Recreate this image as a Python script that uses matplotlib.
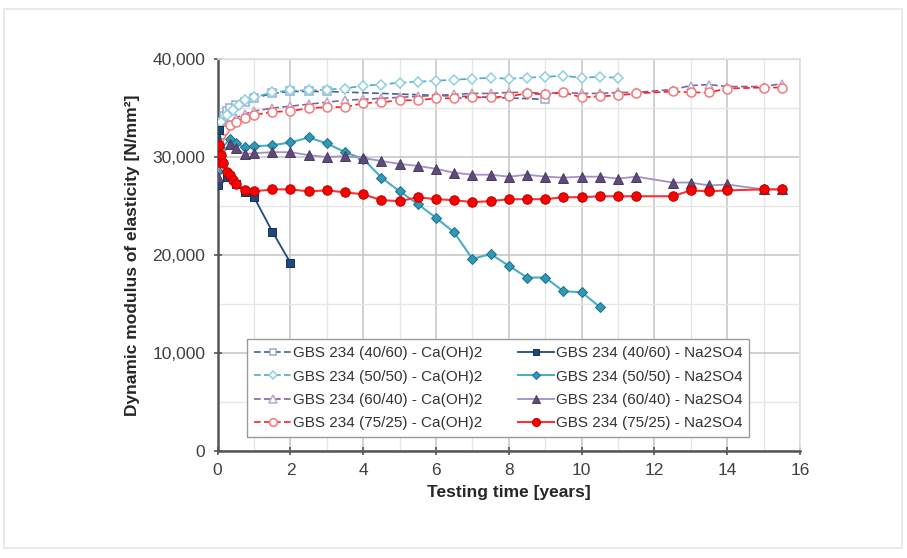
import numpy as np
import matplotlib
matplotlib.use("Agg")
from matplotlib import pyplot as plt
from matplotlib.ticker import FuncFormatter, MultipleLocator
from matplotlib.patches import Rectangle

plt.rcParams['font.family'] = ['Liberation Sans', 'DejaVu Sans']

# --- data (time in years, modulus in N/mm2) ---
t_ca_4060 = [0, 0.08, 0.17, 0.25, 0.33, 0.5, 0.75, 1, 1.5, 2, 2.5, 3, 9]
e_ca_4060 = [32800, 33600, 34200, 34700, 35000, 35300, 35600, 36000, 36500, 36700, 36700, 36700, 35900]

t_ca_5050 = [0, 0.08, 0.25, 0.42, 0.58, 0.75, 1, 1.5, 2, 2.5, 3, 3.5, 4, 4.5, 5, 5.5, 6,
             6.5, 7, 7.5, 8, 8.5, 9, 9.5, 10, 10.5, 11]
e_ca_5050 = [32500, 33600, 34300, 34800, 35300, 35800, 36100, 36600, 36800, 36800, 36900, 37000,
             37300, 37400, 37600, 37700, 37800, 37900, 38000, 38100, 38000, 38100, 38200, 38300,
             38100, 38200, 38100]

t_ca_6040 = [0, 0.08, 0.25, 0.5, 0.75, 1, 1.5, 2, 2.5, 3, 3.5, 4, 4.5, 5, 5.5, 6, 6.5, 7, 7.5,
             8, 8.5, 9, 9.5, 10, 10.5, 11, 11.5, 12.5, 13, 13.5, 14, 15, 15.5]
e_ca_6040 = [31500, 32600, 33400, 34000, 34400, 34700, 35000, 35200, 35400, 35600, 35800, 35900,
             36000, 36100, 36200, 36300, 36400, 36500, 36500, 36600, 36600, 36500, 36600, 36500,
             36500, 36600, 36600, 36900, 37300, 37400, 37200, 37200, 37500]

t_ca_7525 = [0, 0.04, 0.08, 0.17, 0.33, 0.5, 0.75, 1, 1.5, 2, 2.5, 3, 3.5, 4, 4.5, 5, 5.5, 6,
             6.5, 7, 7.5, 8, 8.5, 9, 9.5, 10, 10.5, 11, 11.5, 12.5, 13, 13.5, 14, 15, 15.5]
e_ca_7525 = [30500, 31900, 32400, 32800, 33300, 33600, 34000, 34300, 34600, 34700, 35000, 35100,
             35100, 35500, 35600, 35800, 35800, 36000, 36000, 36100, 36100, 36200, 36500, 36400,
             36600, 36100, 36200, 36300, 36500, 36700, 36600, 36600, 37000, 37100, 37100]

t_na_4060 = [0, 0.04, 0.25, 0.5, 0.75, 1, 1.5, 2]
e_na_4060 = [27100, 32800, 28000, 27300, 26400, 25900, 22400, 19200]

t_na_5050 = [0, 0.08, 0.33, 0.5, 0.75, 1, 1.5, 2, 2.5, 3, 3.5, 4, 4.5, 5, 5.5, 6, 6.5, 7,
             7.5, 8, 8.5, 9, 9.5, 10, 10.5]
e_na_5050 = [28600, 30800, 31800, 31400, 31000, 31100, 31200, 31500, 32000, 31400, 30500, 29800,
             27900, 26500, 25200, 23800, 22300, 19600, 20100, 18900, 17700, 17700, 16300, 16200,
             14700]

t_na_6040 = [0, 0.08, 0.33, 0.5, 0.75, 1, 1.5, 2, 2.5, 3, 3.5, 4, 4.5, 5, 5.5, 6, 6.5, 7, 7.5,
             8, 8.5, 9, 9.5, 10, 10.5, 11, 11.5, 12.5, 13, 13.5, 14, 15, 15.5]
e_na_6040 = [28000, 30200, 31300, 30900, 30300, 30400, 30500, 30500, 30200, 30000, 30100, 29900,
             29600, 29300, 29100, 28800, 28400, 28200, 28200, 28000, 28200, 28000, 27900, 28000,
             28000, 27800, 28000, 27400, 27400, 27100, 27200, 26700, 26700]

t_na_7525 = [0, 0.03, 0.08, 0.14, 0.25, 0.33, 0.42, 0.5, 0.75, 1, 1.5, 2, 2.5, 3, 3.5, 4, 4.5,
             5, 5.5, 6, 6.5, 7, 7.5, 8, 8.5, 9, 9.5, 10, 10.5, 11, 11.5, 12.5, 13, 13.5, 14, 15, 15.5]
e_na_7525 = [29500, 31200, 30200, 29400, 28500, 28200, 27700, 27300, 26600, 26500, 26700, 26700,
             26500, 26600, 26400, 26200, 25600, 25500, 25900, 25700, 25600, 25400, 25500, 25700,
             25700, 25700, 25900, 25900, 26000, 26000, 26000, 26000, 26600, 26500, 26600, 26700,
             26700]

labels_ca = ['GBS 234 (40/60) - Ca(OH)2', 'GBS 234 (50/50) - Ca(OH)2',
             'GBS 234 (60/40) - Ca(OH)2', 'GBS 234 (75/25) - Ca(OH)2']
labels_na = ['GBS 234 (40/60) - Na2SO4', 'GBS 234 (50/50) - Na2SO4',
             'GBS 234 (60/40) - Na2SO4', 'GBS 234 (75/25) - Na2SO4']

fig = plt.figure(figsize=(9.07, 5.58), dpi=100)
fig.patches.append(Rectangle((0.004, 0.018), 0.99, 0.965, transform=fig.transFigure,
                             fill=False, edgecolor='#e6e6e6', linewidth=1.2))
ax = fig.add_axes([0.240, 0.192, 0.642, 0.702])

# Ca(OH)2: open markers, dashed lines
ax.plot(t_ca_4060, e_ca_4060, ls=(0, (4, 2)), color='#3E64A0', lw=1.2, marker='s', ms=5.5,
        mfc='white', mec='#95AFD6', mew=1.1, label=labels_ca[0], zorder=3)
ax.plot(t_ca_5050, e_ca_5050, ls=(0, (4, 2)), color='#4BACC6', lw=1.2, marker='D', ms=4.8,
        mfc='white', mec='#8FD0E0', mew=1.1, label=labels_ca[1], zorder=3)
ax.plot(t_ca_6040, e_ca_6040, ls=(0, (4, 2)), color='#8064A2', lw=1.2, marker='^', ms=6,
        mfc='white', mec='#B9A8D0', mew=1.1, label=labels_ca[2], zorder=3)
ax.plot(t_ca_7525, e_ca_7525, ls=(0, (4, 2)), color='#FF2020', lw=1.2, marker='o', ms=6.5,
        mfc='white', mec='#F47A7A', mew=1.1, label=labels_ca[3], zorder=3)

# Na2SO4: filled markers, solid lines
ax.plot(t_na_4060, e_na_4060, ls='-', color='#1F497D', lw=1.3, marker='s', ms=5.5,
        mfc='#1F497D', mec='#14304F', mew=0.7, label=labels_na[0], zorder=4)
ax.plot(t_na_5050, e_na_5050, ls='-', color='#4BACC6', lw=1.5, marker='D', ms=5,
        mfc='#2E9AB8', mec='#1E6E84', mew=0.7, label=labels_na[1], zorder=4)
ax.plot(t_na_6040, e_na_6040, ls='-', color='#A390C4', lw=1.3, marker='^', ms=6.5,
        mfc='#604A7B', mec='#4A3A60', mew=0.7, label=labels_na[2], zorder=4)
ax.plot(t_na_7525, e_na_7525, ls='-', color='#FF3030', lw=1.5, marker='o', ms=6.8,
        mfc='#FF0000', mec='#B00000', mew=0.7, label=labels_na[3], zorder=5)

ax.set_xlim(0, 16)
ax.set_ylim(0, 40000)
ax.xaxis.set_major_locator(MultipleLocator(2))
ax.xaxis.set_minor_locator(MultipleLocator(1))
ax.yaxis.set_major_locator(MultipleLocator(10000))
ax.yaxis.set_minor_locator(MultipleLocator(5000))
ax.yaxis.set_major_formatter(FuncFormatter(lambda v, p: f'{int(v):,}'))

ax.grid(which='major', color='#c8c8c8', lw=1.2)
ax.grid(which='minor', color='#e6e6e6', lw=1.0)
ax.set_axisbelow(True)

for s in ['top', 'right']:
    ax.spines[s].set_color('#e0e0e0')
    ax.spines[s].set_linewidth(1.2)
for s in ['left', 'bottom']:
    ax.spines[s].set_color('#555555')
    ax.spines[s].set_linewidth(1.8)

ax.tick_params(which='major', direction='inout', length=6, width=1.2, color='#555555',
               labelsize=12.5, labelcolor='#404040', pad=6)
ax.tick_params(which='minor', length=0)

ax.set_xlabel('Testing time [years]', fontsize=12.5, fontweight='bold', color='#262626', labelpad=5)
ax.set_ylabel('Dynamic modulus of elasticity [N/mm²]', fontsize=12.5, fontweight='bold',
              color='#262626', labelpad=9)

leg = ax.legend(ncol=2, loc='lower left', bbox_to_anchor=(0.038, 0.015, 0.888, 0.261),
                mode='expand', fontsize=11, frameon=True, fancybox=False,
                edgecolor='#9a9a9a', framealpha=1, handlelength=2.4, columnspacing=2.0,
                labelspacing=0.62, borderpad=0.45, handletextpad=0.1, markerscale=0.85)
leg.get_frame().set_linewidth(1.0)
for txt in leg.get_texts():
    txt.set_color('#333333')

fig.savefig('out.png', dpi=100)
